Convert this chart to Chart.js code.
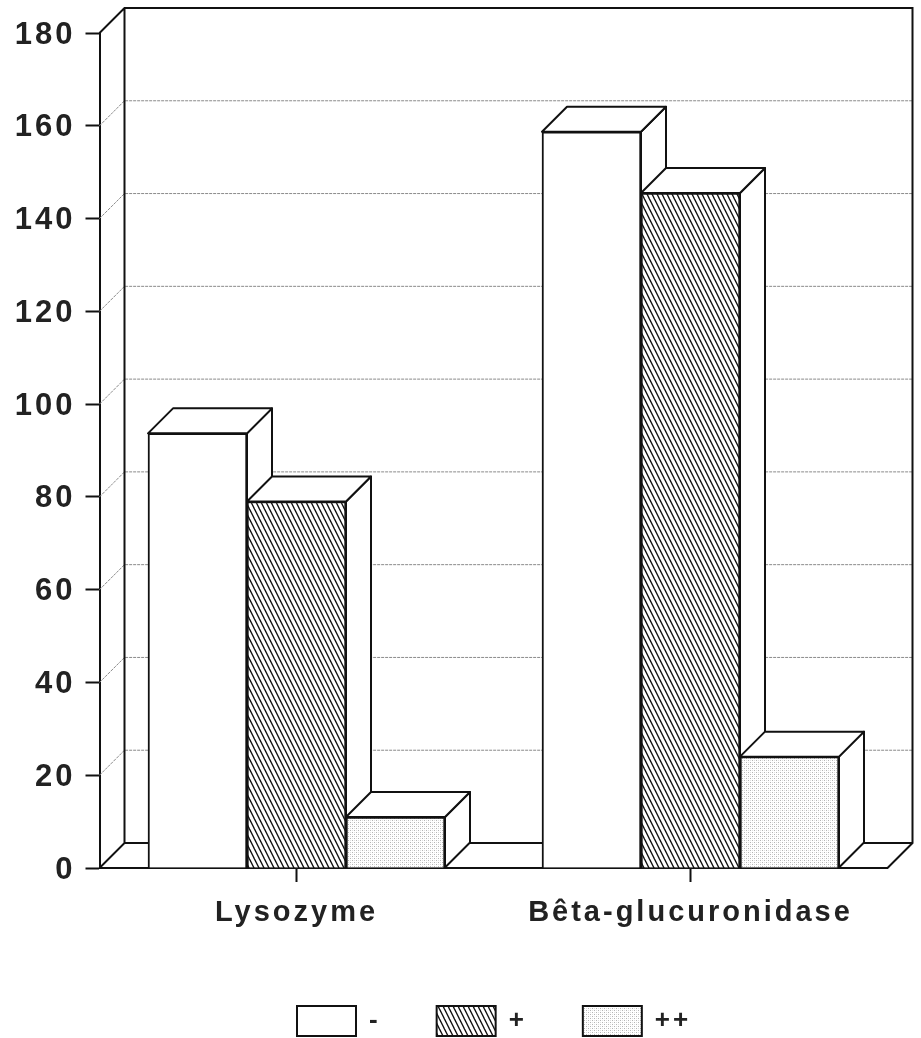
<!DOCTYPE html>
<html><head><meta charset="utf-8">
<style>html,body{margin:0;padding:0;background:#fff}canvas{display:block}</style>
<script src="https://cdn.jsdelivr.net/npm/chart.js@4"></script>
</head><body>
<canvas id="c" width="921" height="1038"></canvas>
<script>
const categories = ["Lysozyme", "Bêta-glucuronidase"];
const seriesNames = ["-", "+", "++"];
const valuesNone = [93.7, 158.7];
const valuesPlus = [79, 145.5];
const valuesPlusPlus = [11, 24];
const yMax = 180;
const yStep = 20;

function tile(w, h, paint) {
  const t = document.createElement('canvas'); t.width = w; t.height = h;
  const g = t.getContext('2d'); g.fillStyle = '#fff'; g.fillRect(0, 0, w, h); paint(g);
  return g.createPattern(t, 'repeat');
}
const hatch = tile(5, 10, g => {
  g.strokeStyle = '#111'; g.lineWidth = 1.4;
  for (let i = -1; i <= 1; i++) {
    g.beginPath(); g.moveTo(i * 5 - 1, -2); g.lineTo(i * 5 + 6, 12); g.stroke();
  }
});
const stipple = tile(4, 4, g => {
  g.fillStyle = '#b4b4b4'; g.fillRect(0, 0, 1, 1); g.fillRect(2, 2, 1, 1);
  g.fillStyle = '#e0e0e0'; g.fillRect(2, 0, 1, 1); g.fillRect(0, 2, 1, 1);
});

const DEPTH = 25, SPACING = '3px';
function poly(ctx, pts, fill) {
  ctx.beginPath(); pts.forEach((p, i) => i ? ctx.lineTo(p[0], p[1]) : ctx.moveTo(p[0], p[1]));
  ctx.closePath();
  if (fill) { ctx.fillStyle = fill; ctx.fill(); }
  ctx.stroke();
}
const spacingPlugin = {
  id: 'spacing',
  beforeUpdate(c) { c.ctx.letterSpacing = SPACING; },
  beforeDraw(c) {
    c.ctx.letterSpacing = SPACING;
    const pad = c.options.plugins.legend.labels.padding;
    c.legend.left = 297 - pad;
    c.legend.top = 1006 - pad;
    // tick labels sit slightly below their tick marks in the reference
    c.scales.y.getLabelItems(c.chartArea).forEach(i => { i.options.translation[1] += 2; });
  }
};
const box3d = {
  id: 'box3d',
  beforeDatasetsDraw(c) {
    const ctx = c.ctx, a = c.chartArea, y = c.scales.y;
    ctx.save();
    // dotted wall grid lines
    ctx.strokeStyle = '#8a8a8a'; ctx.lineWidth = 1; ctx.setLineDash([3, 1]);
    y.ticks.forEach(t => {
      if (t.value === 0 || t.value === yMax) return;
      const p = y.getPixelForValue(t.value);
      ctx.beginPath(); ctx.moveTo(a.left, p); ctx.lineTo(a.left + DEPTH, p - DEPTH);
      ctx.lineTo(a.right + DEPTH, p - DEPTH); ctx.stroke();
    });
    ctx.setLineDash([]);
    // walls and floor
    ctx.strokeStyle = '#111'; ctx.lineWidth = 2;
    ctx.beginPath();
    ctx.moveTo(a.left, a.top); ctx.lineTo(a.left + DEPTH, a.top - DEPTH);
    ctx.lineTo(a.right + DEPTH, a.top - DEPTH); ctx.lineTo(a.right + DEPTH, a.bottom - DEPTH);
    ctx.lineTo(a.right, a.bottom);
    ctx.moveTo(a.left, a.bottom); ctx.lineTo(a.left + DEPTH, a.bottom - DEPTH);
    ctx.lineTo(a.right + DEPTH, a.bottom - DEPTH);
    ctx.moveTo(a.left + DEPTH, a.top - DEPTH); ctx.lineTo(a.left + DEPTH, a.bottom - DEPTH);
    ctx.stroke();
    // bars: first series at the back, so each later bar covers the previous side face
    c.data.datasets.forEach((d, i) => {
      c.getDatasetMeta(i).data.forEach(el => {
        const l = el.x - el.width / 2, r = el.x + el.width / 2, t = el.y, b = el.base;
        ctx.strokeStyle = '#111'; ctx.lineWidth = 2; ctx.lineJoin = 'round';
        poly(ctx, [[r, t], [r + DEPTH, t - DEPTH], [r + DEPTH, b - DEPTH], [r, b]], '#fff');
        poly(ctx, [[l, t], [l + DEPTH, t - DEPTH], [r + DEPTH, t - DEPTH], [r, t]], '#fff');
        el.draw(ctx);
      });
    });
    ctx.restore();
    return false;
  }
};
new Chart(document.getElementById('c'), {
  type: 'bar',
  plugins: [spacingPlugin, box3d],
  data: {
    labels: categories,
    datasets: [
      { label: seriesNames[0], data: valuesNone, backgroundColor: '#fff' },
      { label: seriesNames[1], data: valuesPlus, backgroundColor: hatch },
      { label: seriesNames[2], data: valuesPlusPlus, backgroundColor: stipple }
    ].map(d => Object.assign(d, { borderColor: '#111', borderWidth: 2, barThickness: 99 }))
  },
  options: {
    responsive: false, animation: false,
    layout: { padding: { top: 33, right: 33.5, left: 0, bottom: 0 } },
    plugins: {
      tooltip: { enabled: false },
      legend: {
        position: 'bottom', align: 'start',
        labels: { boxWidth: 59, boxHeight: 30, padding: 56, color: '#222',
          font: { family: 'Liberation Sans', size: 26, weight: 'bold' } }
      }
    },
    scales: {
      x: {
        afterFit(s) { s.height = 1038 - 868 - (s.chart.legend ? s.chart.legend.height : 0); },
        grid: { offset: false, drawOnChartArea: false, drawTicks: true, tickLength: 14, tickWidth: 2, tickColor: '#111' },
        border: { color: '#111', width: 2 },
        ticks: { color: '#222', padding: 14, maxRotation: 0, font: { family: 'Liberation Sans', size: 29, weight: 'bold' } }
      },
      y: {
        min: 0, max: yMax,
        afterFit(s) { s.width = 99.5; },
        grid: { drawOnChartArea: false, tickLength: 14, tickWidth: 2, tickColor: '#111' },
        border: { color: '#111', width: 2 },
        ticks: { stepSize: yStep, color: '#222', padding: 10, font: { family: 'Liberation Sans', size: 31, weight: 'bold' } }
      }
    }
  }
});
</script>
</body></html>
